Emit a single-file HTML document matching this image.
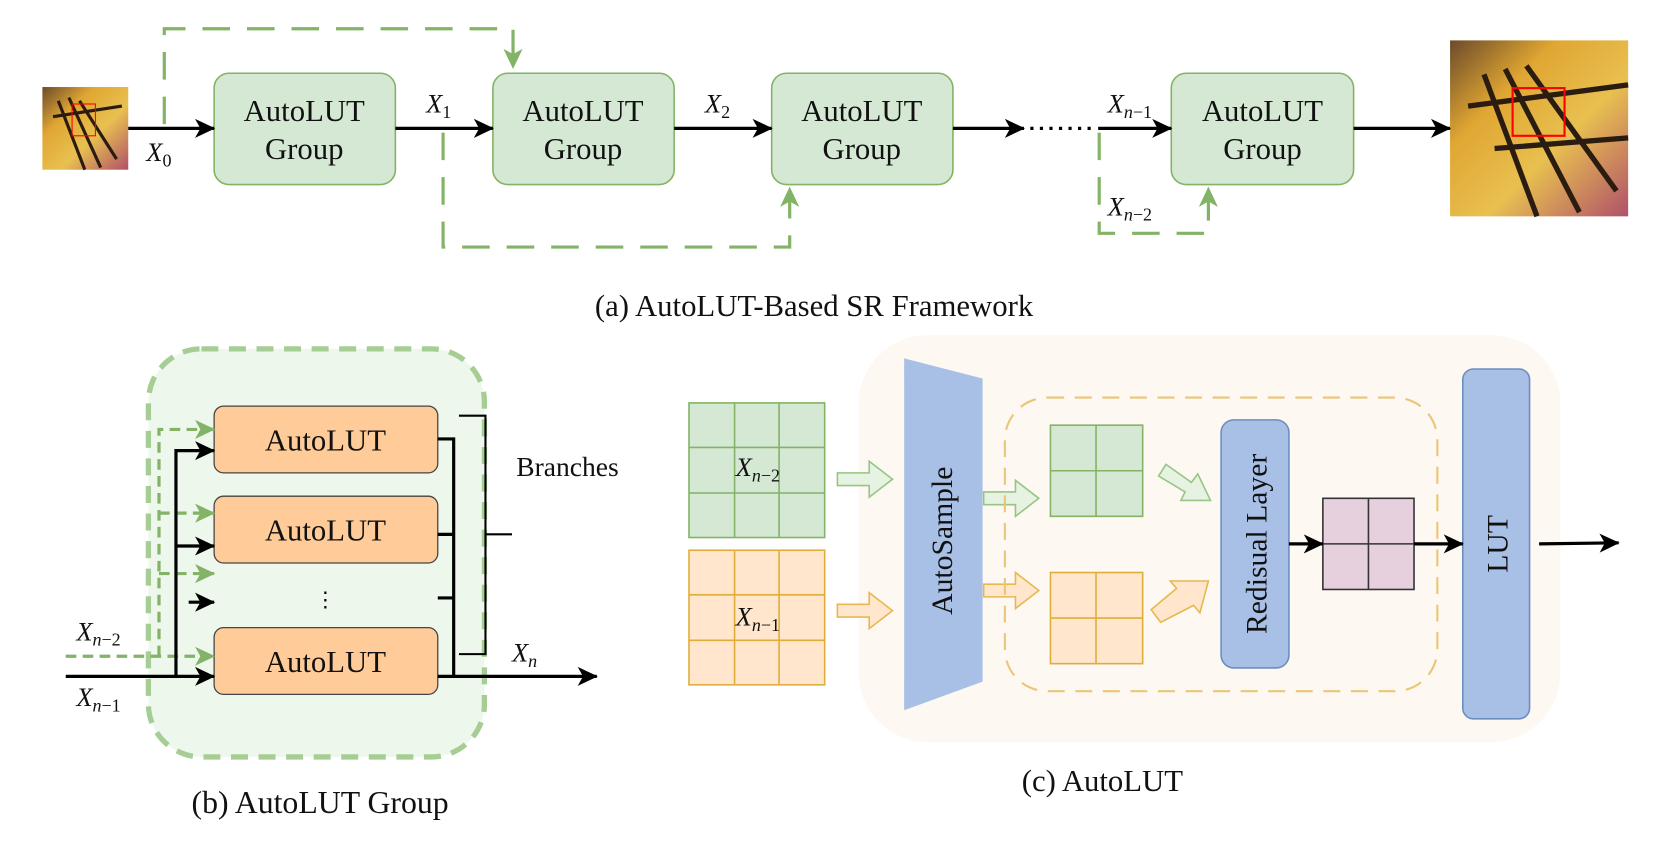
<!DOCTYPE html>
<html><head><meta charset="utf-8"><style>html,body{margin:0;padding:0;background:#fff}svg{display:block}</style></head>
<body>
<svg width="1661" height="862" viewBox="0 0 1567 813" xmlns="http://www.w3.org/2000/svg" font-family="'Liberation Serif', serif">
<defs>
<marker id="abl" markerWidth="20" markerHeight="20" refX="18" refY="10" orient="auto" markerUnits="userSpaceOnUse"><path d="M0,1 L19,10 L0,19 L5,10 z" fill="#000"/></marker>
<marker id="ag" markerWidth="20" markerHeight="20" refX="18" refY="10" orient="auto" markerUnits="userSpaceOnUse"><path d="M0,1 L19,10 L0,19 L5,10 z" fill="#82b366"/></marker>
<linearGradient id="bf" x1="0" y1="0" x2="1" y2="1"><stop offset="0" stop-color="#6b4a2a"/><stop offset="0.3" stop-color="#e0a632"/><stop offset="0.6" stop-color="#e8c050"/><stop offset="1" stop-color="#b0506a"/></linearGradient>
</defs>

<!-- (a) -->
<g>
<rect x="40" y="82" width="81" height="78" fill="url(#bf)"/>
<g stroke="#2a1c10" stroke-width="3" fill="none"><path d="M55,95 L80,160 M65,92 L95,158 M75,95 L110,150 M50,110 L115,100"/></g>
<rect x="68" y="98" width="22" height="30" fill="none" stroke="red" stroke-width="1"/>
<rect x="1368" y="38" width="168" height="166" fill="url(#bf)"/>
<g stroke="#2a1c10" stroke-width="5" fill="none"><path d="M1400,70 L1450,204 M1420,65 L1490,200 M1440,62 L1525,180 M1385,100 L1536,80 M1410,140 L1536,130"/></g>
<rect x="1427" y="83" width="49" height="45" fill="none" stroke="red" stroke-width="2"/>

<g fill="#d5e8d4" stroke="#82b366" stroke-width="1.5">
<rect x="202" y="69" width="171" height="105" rx="14"/>
<rect x="465" y="69" width="171" height="105" rx="14"/>
<rect x="728" y="69" width="171" height="105" rx="14"/>
<rect x="1105" y="69" width="172" height="105" rx="14"/>
</g>
<g font-size="29" text-anchor="middle" fill="#111">
<text x="287" y="114">AutoLUT</text><text x="287" y="150">Group</text>
<text x="550" y="114">AutoLUT</text><text x="550" y="150">Group</text>
<text x="813" y="114">AutoLUT</text><text x="813" y="150">Group</text>
<text x="1191" y="114">AutoLUT</text><text x="1191" y="150">Group</text>
</g>
<g stroke="#000" stroke-width="3" fill="none">
<line x1="121" y1="121" x2="202" y2="121" marker-end="url(#abl)"/>
<line x1="373" y1="121" x2="465" y2="121" marker-end="url(#abl)"/>
<line x1="636" y1="121" x2="728" y2="121" marker-end="url(#abl)"/>
<line x1="899" y1="121" x2="966" y2="121" marker-end="url(#abl)"/>
<line x1="972" y1="121" x2="1034" y2="121" stroke-dasharray="3 6"/>
<line x1="1036" y1="121" x2="1105" y2="121" marker-end="url(#abl)"/>
<line x1="1277" y1="121" x2="1368" y2="121" marker-end="url(#abl)"/>
</g>
<g stroke="#82b366" stroke-width="3" fill="none" stroke-dasharray="26 16">
<path d="M155,117 V27 H484 V64" marker-end="url(#ag)"/>
<path d="M418,125 V233 H745 V177" marker-end="url(#ag)"/>
<path d="M1037,125 V220 H1140 V177" marker-end="url(#ag)"/>
</g>
<g font-size="25" font-style="italic" fill="#111">
<text x="138" y="152">X<tspan font-size="17" font-style="normal" dy="5">0</tspan></text>
<text x="402" y="106">X<tspan font-size="17" font-style="normal" dy="5">1</tspan></text>
<text x="665" y="106">X<tspan font-size="17" font-style="normal" dy="5">2</tspan></text>
<text x="1045" y="106">X<tspan font-size="17" dy="5">n</tspan><tspan font-size="17" font-style="normal">−1</tspan></text>
<text x="1045" y="203">X<tspan font-size="17" dy="5">n</tspan><tspan font-size="17" font-style="normal">−2</tspan></text>
</g>
<text x="768" y="298" font-size="29" text-anchor="middle" fill="#111">(a)  AutoLUT-Based SR Framework</text>
</g>

<!-- (b) -->
<g>
<rect x="140" y="329" width="317" height="385" rx="50" fill="#edf7ec" stroke="#a6cd94" stroke-width="5" stroke-dasharray="16 10"/>
<g fill="#ffcc99" stroke="#444" stroke-width="1.2">
<rect x="202" y="383" width="211" height="63" rx="9"/>
<rect x="202" y="468" width="211" height="63" rx="9"/>
<rect x="202" y="592" width="211" height="63" rx="9"/>
</g>
<g font-size="29" text-anchor="middle" fill="#111">
<text x="307" y="425">AutoLUT</text><text x="307" y="510">AutoLUT</text><text x="307" y="634">AutoLUT</text>
</g>
<text x="307" y="572" font-size="20" text-anchor="middle">⋮</text>
<g stroke="#82b366" stroke-width="3" fill="none" stroke-dasharray="10 6">
<line x1="62" y1="619" x2="202" y2="619" marker-end="url(#ag)"/>
<path d="M150,619 V405 H202" marker-end="url(#ag)"/>
<line x1="150" y1="484" x2="202" y2="484" marker-end="url(#ag)"/>
<line x1="150" y1="541" x2="202" y2="541" marker-end="url(#ag)"/>
</g>
<g stroke="#000" stroke-width="3" fill="none">
<line x1="62" y1="638" x2="202" y2="638" marker-end="url(#abl)"/>
<line x1="413" y1="638" x2="563" y2="638" marker-end="url(#abl)"/>
<path d="M166,638 V425 H202" marker-end="url(#abl)"/>
<line x1="166" y1="515" x2="202" y2="515" marker-end="url(#abl)"/>
<line x1="178" y1="568" x2="202" y2="568" marker-end="url(#abl)"/>
<path d="M413,414 H428 V638 M413,504 H428 M413,564 H428"/>
</g>
<path d="M433,392 H458 V617 H433 M458,504 H483" stroke="#000" stroke-width="2" fill="none"/>
<text x="487" y="449" font-size="26" fill="#111">Branches</text>
<g font-size="25" font-style="italic" fill="#111">
<text x="483" y="624">X<tspan font-size="17" dy="5">n</tspan></text>
<text x="72" y="604">X<tspan font-size="17" dy="5">n</tspan><tspan font-size="17" font-style="normal">−2</tspan></text>
<text x="72" y="666">X<tspan font-size="17" dy="5">n</tspan><tspan font-size="17" font-style="normal">−1</tspan></text>
</g>
<text x="302" y="767" font-size="30" text-anchor="middle" fill="#111">(b)  AutoLUT Group</text>
</g>

<!-- (c) -->
<g>
<rect x="810" y="316" width="662" height="384" rx="65" fill="#fef8f3"/>
<g fill="#d5e8d4" stroke="#82b366" stroke-width="1.5">
<rect x="650" y="380" width="128" height="127"/>
<path d="M693,380 V507 M735,380 V507 M650,422 H778 M650,465 H778" fill="none"/>
<rect x="991" y="401" width="87" height="86"/>
<path d="M1034,401 V487 M991,444 H1078" fill="none"/>
</g>
<g fill="#ffe6cc" stroke="#e0ad3a" stroke-width="1.5">
<rect x="650" y="519" width="128" height="127"/>
<path d="M693,519 V646 M735,519 V646 M650,561 H778 M650,604 H778" fill="none"/>
<rect x="991" y="540" width="87" height="86"/>
<path d="M1034,540 V626 M991,583 H1078" fill="none"/>
</g>
<g font-size="25" font-style="italic" fill="#111">
<text x="694" y="449">X<tspan font-size="17" dy="5">n</tspan><tspan font-size="17" font-style="normal">−2</tspan></text>
<text x="694" y="590">X<tspan font-size="17" dy="5">n</tspan><tspan font-size="17" font-style="normal">−1</tspan></text>
</g>
<g stroke-width="1.5">
<path d="M790,446 H820 V435 L842,452 L820,469 V458 H790 z" fill="#e6f2e2" stroke="#97c583"/>
<path d="M928,464 H958 V453 L980,470 L958,487 V476 H928 z" fill="#e6f2e2" stroke="#97c583"/>
<path d="M790,570 H820 V559 L842,576 L820,593 V582 H790 z" fill="#ffe6cc" stroke="#e6b84f"/>
<path d="M928,551 H958 V540 L980,557 L958,574 V563 H928 z" fill="#ffe6cc" stroke="#e6b84f"/>
<path d="M1093,449 L1100,438 L1124,455 L1130,447 L1142,472 L1114,472 L1118,464 z" fill="#e6f2e2" stroke="#97c583"/>
<path d="M1086,575 L1110,555 L1104,548 L1140,548 L1132,578 L1126,571 L1095,587 z" fill="#ffe6cc" stroke="#e6b84f"/>
</g>
<path d="M853,338 L927,357 L927,643 L853,670 z" fill="#a9c0e6"/>
<text transform="translate(898,510) rotate(-90)" font-size="28" text-anchor="middle" fill="#111">AutoSample</text>
<rect x="948" y="375" width="408" height="277" rx="40" fill="none" stroke="#ebc676" stroke-width="2" stroke-dasharray="16 10"/>
<rect x="1152" y="396" width="64" height="234" rx="12" fill="#a9c0e6" stroke="#6c8ebf" stroke-width="1.5"/>
<text transform="translate(1195,513) rotate(-90)" font-size="28" text-anchor="middle" fill="#111">Redisual Layer</text>
<rect x="1248" y="470" width="86" height="86" fill="#e6d0de" stroke="#333" stroke-width="1.5"/>
<path d="M1291,470 V556 M1248,513 H1334" stroke="#333" stroke-width="1.5"/>
<rect x="1380" y="348" width="63" height="330" rx="10" fill="#a9c0e6" stroke="#6c8ebf" stroke-width="1.5"/>
<text transform="translate(1422,513) rotate(-90)" font-size="28" text-anchor="middle" fill="#111">LUT</text>
<g stroke="#000" stroke-width="3" fill="none">
<line x1="1216" y1="513" x2="1248" y2="513" marker-end="url(#abl)"/>
<line x1="1334" y1="513" x2="1380" y2="513" marker-end="url(#abl)"/>
<line x1="1452" y1="513" x2="1527" y2="512" marker-end="url(#abl)"/>
</g>
<text x="1040" y="746" font-size="29" text-anchor="middle" fill="#111">(c)  AutoLUT</text>
</g>
</svg>
</body></html>
